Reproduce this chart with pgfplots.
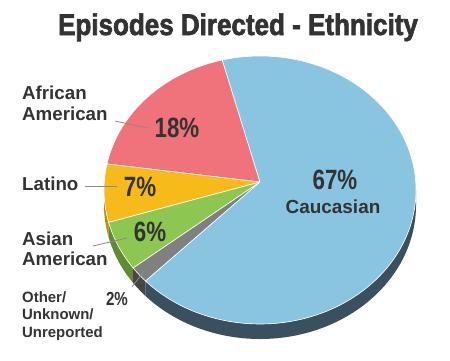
\documentclass[border=0pt]{standalone}
\usepackage{pgfplots}
\usepackage{pgfplotstable}
\pgfplotsset{compat=1.18}
\usepackage{fontspec}
\setmainfont{Liberation Sans}
\newfontfamily\titlefont[FakeStretch=0.87,BoldFeatures={FakeBold=2.2}]{Liberation Sans}
\newfontfamily\pctfont[FakeStretch=0.8]{Liberation Sans}
\definecolor{txt}{HTML}{333333}
\definecolor{pieRed}{HTML}{F0727A}
\definecolor{pieYellow}{HTML}{F6BA1A}
\definecolor{pieGreen}{HTML}{8EC652}
\definecolor{pieGray}{HTML}{808080}
\definecolor{pieBlue}{HTML}{89C4E1}
\definecolor{pieRedD}{HTML}{B0505A}
\definecolor{pieYellowD}{HTML}{BE8C14}
\definecolor{pieGreenD}{HTML}{5F8C32}
\definecolor{pieGrayD}{HTML}{464646}
\definecolor{pieBlueD}{HTML}{3A505F}
\definecolor{leader}{HTML}{8A8A8A}

\pgfplotstableread{
pct top       side
18  pieRed    pieRedD
7   pieYellow pieYellowD
6   pieGreen  pieGreenD
2   pieGray   pieGrayD
67  pieBlue   pieBlueD
}\piedata

\begin{document}
\begin{tikzpicture}
\begin{axis}[width=450bp,height=360bp,scale only axis,
  xmin=0,xmax=450,ymin=0,ymax=360,axis lines=none,clip=false]
\path (axis cs:0,0) (axis cs:450,360);
\pgfplotstablegetrowsof{\piedata}
\pgfmathtruncatemacro\nrows{\pgfplotsretval-1}
% sides
\def\angstart{104}
\pgfplotsforeachungrouped \i in {0,...,\nrows} {%
  \pgfplotstablegetelem{\i}{pct}\of\piedata \let\p\pgfplotsretval
  \pgfplotstablegetelem{\i}{side}\of\piedata \let\sc\pgfplotsretval
  \pgfmathsetmacro\angend{\angstart+3.6*\p}%
  \pgfmathsetmacro\va{max(\angstart,180)}%
  \pgfmathsetmacro\vb{min(\angend,360)}%
  \pgfmathtruncatemacro\vis{\vb>\va ? 1 : 0}%
  \ifnum\vis=1
    \pgfmathsetmacro\xa{260+156*cos(\va)}%
    \pgfmathsetmacro\ya{170+134*sin(\va)}%
    \edef\cmd{\noexpand\fill[\sc] (axis cs:\xa,\ya) arc[start angle=\va, end angle=\vb, x radius=156bp, y radius=134bp] -- ++(0,-15bp) arc[start angle=\vb, end angle=\va, x radius=156bp, y radius=134bp] -- cycle;}%
    \cmd
  \fi
  \global\let\angstart\angend
}
% tops
\def\angstart{104}
\pgfplotsforeachungrouped \i in {0,...,\nrows} {%
  \pgfplotstablegetelem{\i}{pct}\of\piedata \let\p\pgfplotsretval
  \pgfplotstablegetelem{\i}{top}\of\piedata \let\tc\pgfplotsretval
  \pgfmathsetmacro\angend{\angstart+3.6*\p}%
  \pgfmathsetmacro\xa{260+156*cos(\angstart)}%
  \pgfmathsetmacro\ya{170+134*sin(\angstart)}%
  \edef\cmd{\noexpand\filldraw[fill=\tc,draw=white,line width=0.6bp,line join=round] (axis cs:260,178) -- (axis cs:\xa,\ya) arc[start angle=\angstart, end angle=\angend, x radius=156bp, y radius=134bp] -- cycle;}%
  \cmd
  \global\let\angstart\angend
}
% leader lines
\draw[leader,line width=0.8bp] (axis cs:115,239) -- (axis cs:148,232);
\draw[leader,line width=0.8bp] (axis cs:85,174) -- (axis cs:117,174);
\draw[leader,line width=0.8bp] (axis cs:93,114) -- (axis cs:127,122);
\draw[leader,line width=0.8bp] (axis cs:132,73) -- (axis cs:145,90);
% title
\node[anchor=base,inner sep=0,text=txt] at (axis cs:238,325) {\titlefont\bfseries\fontsize{30}{32}\selectfont Episodes Directed - Ethnicity};
% labels
\begin{scope}[every node/.style={inner sep=0,text=txt,anchor=base west,font=\bfseries\fontsize{18.8}{20}\selectfont}]
\node at (axis cs:22,261) {African};
\node at (axis cs:22,240) {American};
\node at (axis cs:22,170) {Latino};
\node at (axis cs:22,115) {Asian};
\node at (axis cs:22,95) {American};
\end{scope}
\begin{scope}[every node/.style={inner sep=0,text=txt,anchor=base west,font=\bfseries\fontsize{15}{16}\selectfont}]
\node at (axis cs:22,58) {Other/};
\node at (axis cs:22,41) {Unknown/};
\node at (axis cs:22,23) {Unreported};
\end{scope}
\begin{scope}[every node/.style={inner sep=0,text=txt,anchor=center,font=\pctfont\bfseries\fontsize{28}{30}\selectfont}]
\node at (axis cs:177,232) {18\%};
\node at (axis cs:140,173) {7\%};
\node at (axis cs:150,128) {6\%};
\node at (axis cs:335,180) {67\%};
\end{scope}
\node[inner sep=0,text=txt,anchor=center,font=\pctfont\bfseries\fontsize{19}{21}\selectfont] at (axis cs:117,61) {2\%};
\node[inner sep=0,text=txt,anchor=center,font=\bfseries\fontsize{19}{21}\selectfont] at (axis cs:333,153) {Caucasian};
\end{axis}
\end{tikzpicture}
\end{document}
